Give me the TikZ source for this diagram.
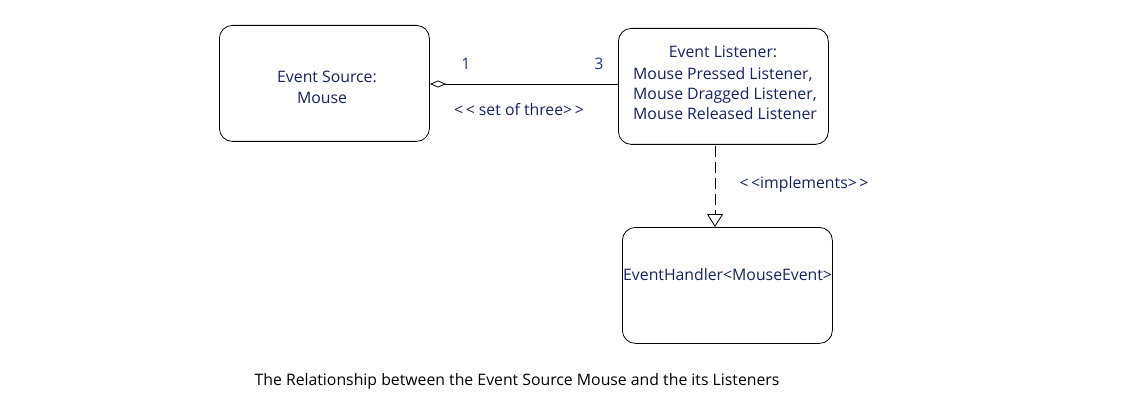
\documentclass[tikz,border=0pt]{standalone}
\usepackage{fontspec}
\setmainfont{Open Sans}
\usetikzlibrary{arrows.meta}
\definecolor{txt}{RGB}{20,35,100}
\definecolor{num}{RGB}{30,60,140}
\tikzset{
  box/.style={draw=black, line width=0.8pt, rounded corners=13pt, minimum width=210pt, minimum height=116pt, anchor=north west, inner sep=0pt},
  lbl/.style={font=\fontsize{15.8pt}{18pt}\selectfont, text=txt, inner sep=0pt},
}
\begin{document}
\begin{tikzpicture}[x=1pt,y=-1pt]
\useasboundingbox[fill=white] (0,0) rectangle (1148,401);
\node[box] (src) at (219,25) {};
\node[box] (lis) at (618,28) {};
\node[box] (hdl) at (622,227) {};
\node[lbl] (srct) at (327,77) {Event Source:};
\node[lbl] (srcm) at (322,98) {Mouse};
\node[lbl] (lt1) at (723,52) {Event Listener:};
\node[lbl, align=left, anchor=west, font=\fontsize{15.8pt}{20pt}\selectfont] (lt2) at (633,94) {Mouse Pressed Listener,\\Mouse Dragged Listener,\\Mouse Released Listener};
\node[lbl, anchor=west] (ht) at (623,275) {EventHandler<MouseEvent>};
\coordinate (lisw) at (lis.west |- 0,84);
\coordinate (srce) at (430,84);
\draw[line width=0.8pt, {Diamond[open, length=16pt, width=7pt, line width=0.8pt]}-] (srce) -- (lisw);
\node[lbl, text=num] (m1) at (466,64) {1};
\node[lbl, text=num] (m3) at (599,64) {3};
\node[lbl] (set) at (519,110) {<\,< set of three>\,>};
\coordinate (dtop) at (715,146);
\coordinate (dbot) at (715,227);
\draw[line width=0.8pt, dash pattern=on 11pt off 5pt, -{Triangle[open, length=13pt, width=16pt, line width=0.8pt]}] (dtop) -- (dbot);
\node[lbl] (impl) at (804,184) {<\,<implements>\,>};
\node[font=\fontsize{15.8pt}{18pt}\selectfont, text=black, inner sep=0pt] (cap) at (517,381) {The Relationship between the Event Source Mouse and the its Listeners};
\end{tikzpicture}
\end{document}
